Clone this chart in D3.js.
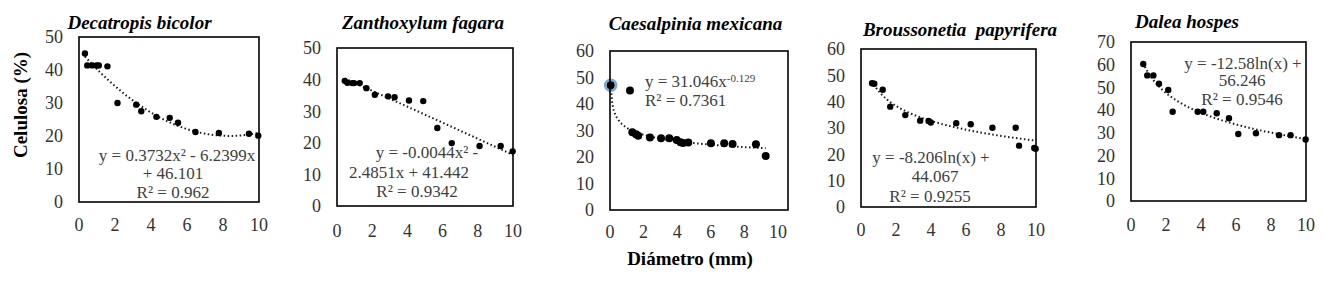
<!DOCTYPE html>
<html>
<head>
<meta charset="utf-8">
<script src="https://cdn.jsdelivr.net/npm/d3@7"></script>
<style>
  body { margin: 0; background: #fff; }
  svg { display: block; font-family: "Liberation Serif", "Times New Roman", serif; }
  .tick-label { font-size: 18px; fill: #333; }
  .eq { font-size: 17px; fill: #404040; }
  .title { font-size: 19px; font-weight: bold; font-style: italic; fill: #000; }
  .axis-title { font-size: 19px; font-weight: bold; fill: #000; }
</style>
</head>
<body>
<svg id="chart" width="1326" height="282"></svg>
<script>
// species names
const species = ['Decatropis bicolor', 'Zanthoxylum fagara', 'Caesalpinia mexicana', 'Broussonetia  papyrifera', 'Dalea hospes'];

// diameter (mm), cellulose (%)
const decatropis = [[0.33, 45], [0.46, 41.4], [0.74, 41.4], [0.98, 41.4], [1.1, 41.4], [1.58, 41.1],
  [2.14, 30], [3.18, 29.5], [3.46, 27.5], [4.3, 25.8], [5.04, 25.5], [5.5, 24],
  [6.47, 21.2], [7.77, 20.9], [9.44, 20.7], [9.96, 20.1]];
const zanthoxylum = [[0.44, 39.6], [0.59, 39], [0.86, 38.9], [0.97, 38.9], [1.29, 38.9], [1.67, 37.3],
  [2.15, 35.2], [2.9, 34.7], [3.27, 34.4], [4.09, 33.4], [4.9, 33.2], [5.7, 24.7],
  [6.52, 19.9], [8.1, 19], [9.3, 19], [9.98, 17.3]];
const caesalpinia = [[0.04, 47.1], [1.19, 45.1], [1.33, 29.3], [1.55, 28.6], [1.68, 28], [2.38, 27.4],
  [3.04, 27.1], [3.53, 27.1], [3.97, 26.4], [4.2, 25.6], [4.35, 25.3], [4.66, 25.5],
  [6.01, 25.2], [6.8, 25.2], [7.3, 24.9], [8.69, 24.8], [9.27, 20.4]];
const broussonetia = [[0.63, 47], [0.76, 46.8], [1.24, 44.5], [1.67, 38.1], [2.53, 34.9], [3.38, 32.8],
  [3.86, 32.7], [3.99, 32.1], [5.44, 31.8], [6.27, 31.4], [7.51, 30.1], [8.84, 30.1],
  [9.03, 23.3], [9.9, 22.4], [9.98, 22.1]];
const dalea = [[0.7, 60.3], [0.93, 55.3], [1.28, 55.3], [1.6, 51.6], [2.13, 48.9], [2.38, 39.3],
  [3.81, 39.3], [4.13, 39.3], [4.9, 38.6], [5.6, 36.4], [6.13, 29.5], [7.14, 29.8],
  [8.46, 29], [9.12, 29], [9.98, 27.1]];

// trendline equations as printed on the chart
const trendDecatropis = x => 0.3732 * x * x - 6.2399 * x + 46.101;
const trendZanthoxylum = x => -0.0044 * x * x - 2.4851 * x + 41.442;
const trendCaesalpinia = x => 31.046 * Math.pow(x, -0.129);
const trendBroussonetia = x => -8.206 * Math.log(x) + 44.067;
const trendDalea = x => -12.58 * Math.log(x) + 56.246;

// equation labels
const eqDecatropis = ['y = 0.3732x² - 6.2399x', '+ 46.101', 'R² = 0.962'];
const eqZanthoxylum = ['y = -0.0044x² -', '2.4851x + 41.442', 'R² = 0.9342'];
const eqBroussonetia = ['y = -8.206ln(x) +', '44.067', 'R² = 0.9255'];
const eqDalea = ['y = -12.58ln(x) +', '56.246', 'R² = 0.9546'];

const xTicks = [0, 2, 4, 6, 8, 10];
const yMaxes = [50, 50, 60, 60, 70];

const svg = d3.select('#chart');

const panels = [
  { data: decatropis, trend: trendDecatropis, eq: eqDecatropis, yMax: yMaxes[0],
    box: [79, 259, 37, 202], xMax: 10, xLabY: 225, title: [139.5, 22],
    eqPos: [[177, 155], [173, 173.5], [173, 192]], r: 3.2 },
  { data: zanthoxylum, trend: trendZanthoxylum, eq: eqZanthoxylum, yMax: yMaxes[1],
    box: [337, 513, 48, 206], xMax: 10, xLabY: 231, title: [423, 22],
    eqPos: [[427, 152], [409, 172], [417, 191]], r: 3.2 },
  { data: caesalpinia, trend: trendCaesalpinia, eq: null, yMax: yMaxes[2],
    box: [610, 788, 51, 210], xMax: 10.6, xLabY: 232, title: [695.5, 23], r: 4 },
  { data: broussonetia, trend: trendBroussonetia, eq: eqBroussonetia, yMax: yMaxes[3],
    box: [861, 1036, 49, 207], xMax: 10, xLabY: 230, title: [960, 29],
    eqPos: [[931, 157], [935, 176], [930, 196]], r: 3.2 },
  { data: dalea, trend: trendDalea, eq: eqDalea, yMax: yMaxes[4],
    box: [1131, 1306, 42, 201], xMax: 10, xLabY: 225, title: [1187, 21],
    eqPos: [[1243, 63.5], [1242, 80], [1242, 99.5]], r: 3.2 }
];

panels.forEach((p, i) => {
  const [left, right, top, bottom] = p.box;
  const xscale = d3.scaleLinear().domain([0, p.xMax]).range([left, right]);
  const yscale = d3.scaleLinear().domain([0, p.yMax]).range([bottom, top]);
  const g = svg.append('g');

  // y tick labels
  g.selectAll('.ytick')
    .data(d3.range(0, p.yMax + 1, 10))
    .enter()
    .append('text')
    .attr('class', 'tick-label')
    .attr('x', left - 16)
    .attr('y', d => yscale(d))
    .attr('dy', '0.35em')
    .attr('text-anchor', 'end')
    .text(d => d);

  // x tick labels
  g.selectAll('.xtick')
    .data(xTicks)
    .enter()
    .append('text')
    .attr('class', 'tick-label')
    .attr('x', d => xscale(d))
    .attr('y', p.xLabY)
    .attr('dy', '0.35em')
    .attr('text-anchor', 'middle')
    .text(d => d);

  // trendline
  const xs = p.data.map(d => d[0]);
  const [x0, x1] = d3.extent(xs);
  const pts = d3.range(0, 101).map(k => {
    const x = x0 + (x1 - x0) * k / 100;
    return [x, p.trend(x)];
  });
  g.append('path')
    .datum(pts)
    .attr('fill', 'none')
    .attr('stroke', '#1a1a1a')
    .attr('stroke-width', 2)
    .attr('stroke-dasharray', '1.5,2.5')
    .attr('d', d3.line().x(d => xscale(d[0])).y(d => yscale(d[1])));

  // selected point halo (Caesalpinia first point)
  if (i === 2) {
    g.append('circle')
      .attr('cx', xscale(p.data[0][0]))
      .attr('cy', yscale(p.data[0][1]))
      .attr('r', 5.5)
      .attr('fill', 'none')
      .attr('stroke', '#5b9bd5')
      .attr('stroke-width', 2.5)
      .attr('opacity', 0.85);
  }

  // points
  g.selectAll('circle.pt')
    .data(p.data)
    .enter()
    .append('circle')
    .attr('class', 'pt')
    .attr('cx', d => xscale(d[0]))
    .attr('cy', d => yscale(d[1]))
    .attr('r', p.r)
    .attr('fill', '#000');

  // frame
  g.append('rect')
    .attr('x', left)
    .attr('y', top)
    .attr('width', right - left)
    .attr('height', bottom - top)
    .attr('fill', 'none')
    .attr('stroke', '#000')
    .attr('stroke-width', 1.6);

  // title
  g.append('text')
    .attr('class', 'title')
    .attr('x', p.title[0])
    .attr('y', p.title[1])
    .attr('dy', '0.35em')
    .attr('text-anchor', 'middle')
    .style('white-space', 'pre')
    .text(species[i]);

  // equation
  if (p.eq) {
    g.selectAll('.eq')
      .data(p.eq)
      .enter()
      .append('text')
      .attr('class', 'eq')
      .attr('x', (d, k) => p.eqPos[k][0])
      .attr('y', (d, k) => p.eqPos[k][1])
      .attr('dy', '0.35em')
      .attr('text-anchor', 'middle')
      .text(d => d);
  }
});

// power-law equation in Caesalpinia panel
const eqC = svg.append('text').attr('class', 'eq').attr('x', 645).attr('y', 81).attr('dy', '0.35em');
eqC.append('tspan').text('y = 31.046x');
eqC.append('tspan').attr('dy', '-5').attr('font-size', '11px').text('-0.129');
svg.append('text').attr('class', 'eq').attr('x', 645).attr('y', 100).attr('dy', '0.35em').text('R² = 0.7361');

// shared axis titles
svg.append('text')
  .attr('class', 'axis-title')
  .attr('transform', 'translate(20, 105) rotate(-90)')
  .attr('dy', '0.35em')
  .attr('text-anchor', 'middle')
  .text('Celulosa (%)');

svg.append('text')
  .attr('class', 'axis-title')
  .attr('x', 690)
  .attr('y', 258)
  .attr('dy', '0.35em')
  .attr('text-anchor', 'middle')
  .text('Diámetro (mm)');
</script>
</body>
</html>
